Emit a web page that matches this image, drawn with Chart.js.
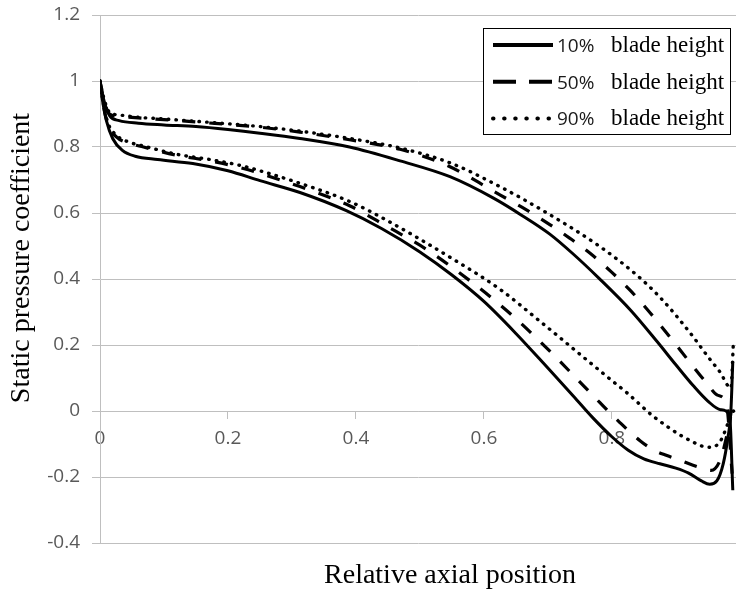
<!DOCTYPE html>
<html>
<head>
<meta charset="utf-8">
<script src="https://cdn.jsdelivr.net/npm/chart.js@4"></script>
<style>
  html, body { margin: 0; padding: 0; background: #fff; }
  #chart { display: block; }
</style>
</head>
<body>
<canvas id="chart" width="736" height="591"></canvas>
<script>
// each blade height: upper (pressure side) and lower (suction side) curve, LE -> TE
const x10Up  = [0, 0.005, 0.015, 0.03, 0.06, 0.1, 0.15, 0.2, 0.25, 0.3125, 0.39, 0.469, 0.547, 0.615, 0.66, 0.703, 0.74, 0.78, 0.83, 0.87, 0.9, 0.927, 0.95, 0.97, 0.984, 0.989];
const cp10Up = [1.0, 0.95, 0.895, 0.88, 0.872, 0.867, 0.862, 0.853, 0.842, 0.826, 0.80, 0.758, 0.71, 0.645, 0.592, 0.536, 0.475, 0.402, 0.304, 0.212, 0.14, 0.077, 0.03, 0.004, -0.012, -0.24];
const x10Low  = [0, 0.004, 0.01, 0.02, 0.035, 0.055, 0.09, 0.145, 0.2, 0.25, 0.3125, 0.385, 0.44, 0.5, 0.55, 0.6, 0.65, 0.7, 0.74, 0.77, 0.8, 0.825, 0.85, 0.875, 0.9, 0.92, 0.94, 0.953, 0.964, 0.974, 0.981, 0.986, 0.989];
const cp10Low = [1.0, 0.94, 0.88, 0.825, 0.79, 0.772, 0.762, 0.75, 0.728, 0.698, 0.662, 0.607, 0.553, 0.482, 0.412, 0.332, 0.235, 0.13, 0.045, -0.02, -0.078, -0.118, -0.145, -0.16, -0.173, -0.188, -0.212, -0.222, -0.212, -0.16, -0.085, 0.0, 0.15];

const x50Up  = [0, 0.005, 0.015, 0.03, 0.06, 0.1, 0.156, 0.25, 0.3125, 0.39, 0.469, 0.547, 0.625, 0.66, 0.703, 0.734, 0.766, 0.8, 0.828, 0.86, 0.89, 0.92, 0.948, 0.965, 0.979, 0.988];
const cp50Up = [1.0, 0.95, 0.9, 0.893, 0.888, 0.883, 0.875, 0.86, 0.845, 0.822, 0.793, 0.74, 0.655, 0.617, 0.565, 0.524, 0.478, 0.42, 0.367, 0.297, 0.226, 0.152, 0.085, 0.048, 0.022, -0.19];
const x50Low  = [0, 0.005, 0.012, 0.026, 0.045, 0.068, 0.12, 0.172, 0.224, 0.25, 0.3125, 0.39, 0.448, 0.51, 0.578, 0.62, 0.651, 0.68, 0.714, 0.745, 0.781, 0.8125, 0.844, 0.865, 0.886, 0.91, 0.935, 0.955, 0.969, 0.979, 0.985, 0.988];
const cp50Low = [1.0, 0.93, 0.87, 0.83, 0.812, 0.80, 0.775, 0.758, 0.735, 0.72, 0.68, 0.622, 0.56, 0.49, 0.395, 0.33, 0.278, 0.225, 0.16, 0.098, 0.026, -0.035, -0.09, -0.118, -0.135, -0.152, -0.17, -0.18, -0.15, -0.08, -0.02, 0.04];

const x90Up  = [0, 0.005, 0.015, 0.03, 0.06, 0.1, 0.156, 0.25, 0.3125, 0.39, 0.469, 0.547, 0.625, 0.703, 0.78, 0.84, 0.875, 0.9, 0.927, 0.95, 0.969, 0.986, 0.99];
const cp90Up = [1.0, 0.955, 0.905, 0.897, 0.89, 0.885, 0.877, 0.862, 0.848, 0.826, 0.797, 0.752, 0.68, 0.595, 0.50, 0.41, 0.345, 0.29, 0.225, 0.165, 0.118, 0.07, 0.21];
const x90Low  = [0, 0.005, 0.012, 0.026, 0.045, 0.068, 0.12, 0.172, 0.224, 0.25, 0.3125, 0.39, 0.448, 0.552, 0.625, 0.6875, 0.719, 0.74, 0.77, 0.8, 0.823, 0.864, 0.885, 0.906, 0.925, 0.94, 0.955, 0.97, 0.983, 0.99];
const cp90Low = [1.0, 0.935, 0.875, 0.835, 0.815, 0.803, 0.778, 0.762, 0.742, 0.728, 0.69, 0.635, 0.578, 0.46, 0.369, 0.272, 0.222, 0.188, 0.14, 0.092, 0.056, -0.015, -0.045, -0.072, -0.092, -0.106, -0.11, -0.09, -0.03, 0.0];

const heights = ['10%', '50%', '90%'];
const legendText = 'blade height';
const xTitle = 'Relative axial position';
const yTitle = 'Static pressure coefficient';
const yTicks = { min: -0.4, max: 1.2, step: 0.2 };
const xTicks = { min: 0, max: 0.994, step: 0.2 };

const toPoints = (xs, ys) => xs.map((x, i) => ({ x: x, y: ys[i] }));

const styles = [
  { borderDash: [], borderCapStyle: 'butt', borderWidth: 3, legendDash: [] },
  { borderDash: [13, 14], borderCapStyle: 'butt', borderWidth: 3.2, legendDash: [23, 13] },
  { borderDash: [0.5, 7.2], borderCapStyle: 'round', borderWidth: 3.4, legendDash: [0.5, 10.6] }
];

const curves = [
  [x10Up, cp10Up, x10Low, cp10Low],
  [x50Up, cp50Up, x50Low, cp50Low],
  [x90Up, cp90Up, x90Low, cp90Low]
];

const datasets = [];
curves.forEach((c, i) => {
  const base = { borderColor: '#000', backgroundColor: '#000', showLine: true, pointRadius: 0,
    cubicInterpolationMode: 'monotone', borderJoinStyle: 'round', ...styles[i] };
  datasets.push({ ...base, label: heights[i] + '  ' + legendText, data: toPoints(c[0], c[1]) });
  datasets.push({ ...base, label: heights[i] + '  ' + legendText + ' (suction)', data: toPoints(c[2], c[3]) });
});

// boxed legend in the upper right and the two axis titles, placed as in the original
const decor = {
  id: 'decor',
  afterDraw(chart) {
    const ctx = chart.ctx;
    ctx.save();
    ctx.fillStyle = '#fff';
    ctx.fillRect(483, 28, 248, 107);
    ctx.strokeStyle = '#000';
    ctx.lineWidth = 1;
    ctx.strokeRect(483.5, 28.5, 247, 106);
    styles.forEach((st, i) => {
      const y = 45 + i * 36.7;
      ctx.beginPath();
      ctx.setLineDash(st.legendDash);
      ctx.lineCap = st.borderCapStyle;
      ctx.lineWidth = 4;
      ctx.strokeStyle = '#000';
      ctx.moveTo(493, y);
      ctx.lineTo(553, y);
      ctx.stroke();
      ctx.setLineDash([]);
      ctx.textBaseline = 'alphabetic';
      ctx.textAlign = 'left';
      ctx.fillStyle = '#1a1a1a';
      ctx.font = '19px "Open Sans"';
      ctx.fillText(heights[i], 557, y + 7);
      ctx.fillStyle = '#000';
      ctx.font = '23px "Liberation Serif"';
      ctx.fillText(legendText, 611, y + 7);
    });

    ctx.fillStyle = '#000';
    ctx.font = '28px "Liberation Serif"';
    ctx.textAlign = 'center';
    ctx.textBaseline = 'alphabetic';
    ctx.fillText(xTitle, 450, 583);
    ctx.translate(22, 258);
    ctx.rotate(-Math.PI / 2);
    ctx.textBaseline = 'middle';
    ctx.fillText(yTitle, 0, 0);
    ctx.restore();
  }
};

const fmt = v => String(+(+v).toFixed(1));
const grey = '#bfbfbf';
const tickFont = { family: '"Open Sans"', size: 19 };

new Chart(document.getElementById('chart'), {
  type: 'scatter',
  data: { datasets },
  plugins: [decor],
  options: {
    responsive: false,
    animation: false,
    layout: { padding: { left: 0, right: 0, top: 15, bottom: 48 } },
    plugins: { legend: { display: false }, tooltip: { enabled: false } },
    scales: {
      x: {
        type: 'linear',
        position: { y: 0 },
        min: xTicks.min, max: xTicks.max,
        ticks: { stepSize: xTicks.step, includeBounds: false, callback: fmt, color: '#595959', font: tickFont, padding: 9, maxRotation: 0 },
        grid: { drawOnChartArea: false, drawTicks: true, tickLength: 7, color: grey },
        border: { display: true, color: grey }
      },
      y: {
        type: 'linear',
        position: 'left',
        min: yTicks.min, max: yTicks.max,
        afterFit: s => { s.width = 100; s.paddingTop = 0; s.paddingBottom = 0; },
        ticks: { stepSize: yTicks.step, callback: fmt, color: '#595959', font: tickFont, padding: 12 },
        grid: { color: grey, tickLength: 8 },
        border: { display: true, color: grey }
      }
    }
  }
});
</script>
</body>
</html>
